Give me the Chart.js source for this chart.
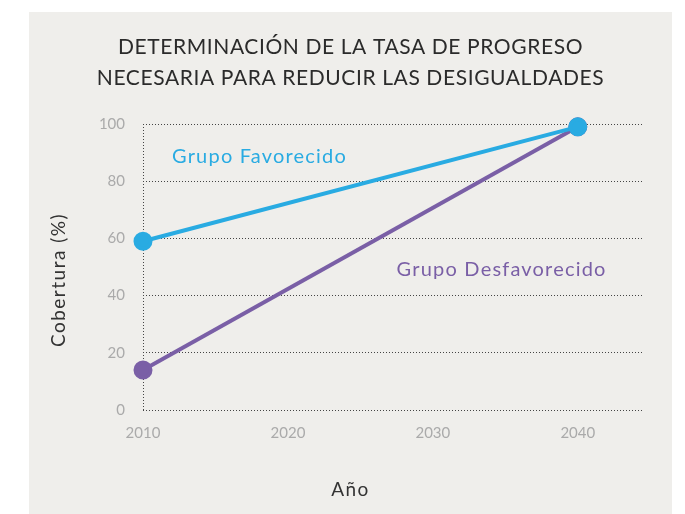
<!DOCTYPE html>
<html>
<head>
<meta charset="utf-8">
<script src="https://cdn.jsdelivr.net/npm/chart.js@4"></script>
<style>
  body { margin: 0; background: #fff; }
  #panel { position: absolute; left: 29px; top: 12px; width: 643px; height: 502px; background: #efeeeb; }
  canvas { display: block; }
</style>
</head>
<body>
<div id="panel"><canvas id="chart" width="643" height="502"></canvas></div>
<script>
const years = [2010, 2040];
const favorecido = [59, 99];
const desfavorecido = [14, 99];
const xTicks = [2010, 2020, 2030, 2040];
const yTicks = [0, 20, 40, 60, 80, 100];
const titleLines = ["DETERMINACIÓN DE LA TASA DE PROGRESO", "NECESARIA PARA REDUCIR LAS DESIGUALDADES"];

const BLUE = "#29abe2";
const PURPLE = "#7a5fa6";
const GRID = "#444";
const FONT = "Lato, 'Open Sans', sans-serif";

function spacedText(ctx, text, x, y, spacing) {
  ctx.letterSpacing = spacing + "px";
  ctx.fillText(text, x, y);
  ctx.letterSpacing = "0px";
}

// title, axis titles and series names (Chart.js centres axis titles on the plot, the original centres them on the panel)
const textLayer = {
  id: "textLayer",
  afterDatasetsDraw(chart) {
    const { ctx, scales: { x, y } } = chart;
    const mid = chart.width / 2;
    ctx.save();
    ctx.textBaseline = "middle";

    ctx.textAlign = "center";
    ctx.fillStyle = "#2b2b2b";
    ctx.font = "21px " + FONT;
    spacedText(ctx, titleLines[0], mid, 35, 0.6);
    spacedText(ctx, titleLines[1], mid, 66, 0.6);

    ctx.fillStyle = "#333";
    ctx.font = "19px " + FONT;
    spacedText(ctx, "Año", mid, 478, 1.5);
    ctx.save();
    ctx.translate(30, 268);
    ctx.rotate(-Math.PI / 2);
    spacedText(ctx, "Cobertura (%)", 0, 0, 1.5);
    ctx.restore();

    ctx.textAlign = "left";
    ctx.font = "20px " + FONT;
    ctx.fillStyle = BLUE;
    spacedText(ctx, "Grupo Favorecido", x.getPixelForValue(2012), y.getPixelForValue(88.5), 1.2);
    ctx.fillStyle = PURPLE;
    spacedText(ctx, "Grupo Desfavorecido", x.getPixelForValue(2027.5), y.getPixelForValue(49), 1.2);
    ctx.restore();
  }
};

new Chart(document.getElementById("chart"), {
  type: "line",
  data: {
    datasets: [
      {
        label: "Grupo Favorecido",
        data: years.map((yr, i) => ({ x: yr, y: favorecido[i] })),
        borderColor: BLUE,
        backgroundColor: BLUE,
        borderWidth: 4,
        pointRadius: 7.5,
        pointHoverRadius: 7.5
      },
      {
        label: "Grupo Desfavorecido",
        data: years.map((yr, i) => ({ x: yr, y: desfavorecido[i] })),
        borderColor: PURPLE,
        backgroundColor: PURPLE,
        borderWidth: 4,
        pointRadius: 7.5,
        pointHoverRadius: 7.5
      }
    ]
  },
  options: {
    responsive: false,
    animation: false,
    clip: false,
    layout: { padding: { left: 0, right: 29, top: 112, bottom: 0 } },
    plugins: {
      legend: { display: false },
      tooltip: { enabled: false },
      title: { display: false }
    },
    scales: {
      x: {
        type: "linear",
        min: 2010,
        max: 2044.5,
        afterBuildTicks(scale) { scale.ticks = xTicks.map(v => ({ value: v })); },
        afterFit(scale) { scale.height = 104; },
        // only the 2010 grid line is shown: it is the dotted left axis
        grid: {
          color: c => (c.tick && c.tick.value === xTicks[0] ? GRID : "rgba(0,0,0,0)"),
          lineWidth: 1,
          drawTicks: false
        },
        border: { display: false, dash: [1, 2] },
        ticks: {
          color: "#aaaaaa",
          font: { family: FONT, size: 15 },
          padding: 14,
          callback: v => String(v)
        }
      },
      y: {
        min: 0,
        max: 100,
        afterBuildTicks(scale) { scale.ticks = yTicks.map(v => ({ value: v })); },
        afterFit(scale) { scale.width = 114; },
        grid: {
          color: GRID,
          lineWidth: 1,
          drawTicks: false
        },
        border: { display: false, dash: [1, 2] },
        ticks: {
          color: "#aaaaaa",
          font: { family: FONT, size: 15 },
          padding: 18
        }
      }
    }
  },
  plugins: [textLayer]
});
</script>
</body>
</html>
